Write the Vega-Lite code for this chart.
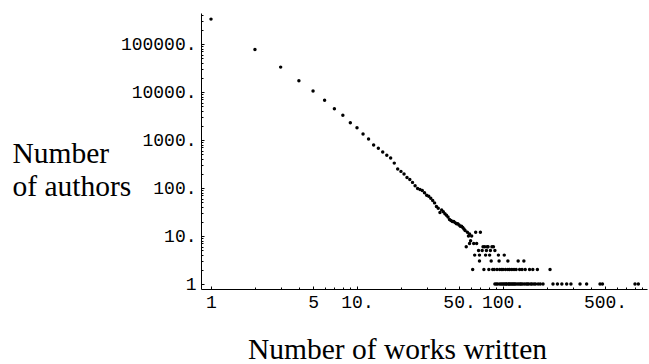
{
  "$schema": "https://vega.github.io/schema/vega-lite/v6.json",
  "width": 446,
  "height": 276,
  "autosize": {"type": "none"},
  "padding": {"left": 201, "top": 13, "right": 2, "bottom": 75},
  "background": "white",
  "config": {
    "view": {"stroke": null},
    "axis": {
      "grid": false,
      "domainColor": "black",
      "domainWidth": 1,
      "tickColor": "black",
      "tickWidth": 1,
      "labelColor": "black",
      "labelFont": "Liberation Mono",
      "labelFontSize": 18,
      "labelFlush": false,
      "labelOverlap": false,
      "titleFont": "Liberation Serif",
      "titleFontSize": 29.5,
      "titleFontWeight": "normal",
      "titleColor": "black"
    }
  },
  "data": {
    "values": [
      {"works": 1, "authors": 330000}, {"works": 2, "authors": 77000}, {"works": 3, "authors": 33000},
      {"works": 4, "authors": 17200}, {"works": 5, "authors": 10500}, {"works": 6, "authors": 6700},
      {"works": 7, "authors": 4470}, {"works": 8, "authors": 3270}, {"works": 9, "authors": 2290},
      {"works": 10, "authors": 1800}, {"works": 11, "authors": 1330}, {"works": 12, "authors": 1050},
      {"works": 13, "authors": 790}, {"works": 14, "authors": 670}, {"works": 15, "authors": 560},
      {"works": 16, "authors": 480}, {"works": 17, "authors": 420}, {"works": 18, "authors": 330},
      {"works": 19, "authors": 250}, {"works": 20, "authors": 222}, {"works": 21, "authors": 196},
      {"works": 22, "authors": 165}, {"works": 23, "authors": 150}, {"works": 24, "authors": 131},
      {"works": 25, "authors": 112}, {"works": 26, "authors": 98}, {"works": 27, "authors": 93},
      {"works": 28, "authors": 89}, {"works": 29, "authors": 80}, {"works": 30, "authors": 71},
      {"works": 31, "authors": 67}, {"works": 32, "authors": 61}, {"works": 33, "authors": 55},
      {"works": 34, "authors": 49}, {"works": 35, "authors": 41}, {"works": 36, "authors": 38},
      {"works": 37, "authors": 31}, {"works": 38, "authors": 35}, {"works": 39, "authors": 32},
      {"works": 40, "authors": 29}, {"works": 41, "authors": 27}, {"works": 42, "authors": 25},
      {"works": 43, "authors": 22}, {"works": 44, "authors": 21}, {"works": 45, "authors": 20},
      {"works": 46, "authors": 20}, {"works": 47, "authors": 19}, {"works": 48, "authors": 18},
      {"works": 49, "authors": 18}, {"works": 50, "authors": 17}, {"works": 51, "authors": 16},
      {"works": 52, "authors": 16}, {"works": 53, "authors": 15}, {"works": 54, "authors": 14},
      {"works": 55, "authors": 13},
      {"works": 56, "authors": 6}, {"works": 57, "authors": 12}, {"works": 58, "authors": 10},
      {"works": 59, "authors": 7}, {"works": 59, "authors": 11}, {"works": 60, "authors": 8},
      {"works": 61, "authors": 10}, {"works": 62, "authors": 2}, {"works": 63, "authors": 7},
      {"works": 64, "authors": 4}, {"works": 65, "authors": 12}, {"works": 66, "authors": 7},
      {"works": 68, "authors": 5}, {"works": 69, "authors": 3}, {"works": 69, "authors": 4},
      {"works": 70, "authors": 12}, {"works": 72, "authors": 5}, {"works": 73, "authors": 6},
      {"works": 74, "authors": 2}, {"works": 75, "authors": 6}, {"works": 76, "authors": 4},
      {"works": 77, "authors": 5}, {"works": 78, "authors": 6}, {"works": 79, "authors": 6},
      {"works": 80, "authors": 2}, {"works": 81, "authors": 4}, {"works": 82, "authors": 5},
      {"works": 83, "authors": 3}, {"works": 84, "authors": 6}, {"works": 85, "authors": 2},
      {"works": 86, "authors": 6}, {"works": 87, "authors": 2}, {"works": 88, "authors": 5},
      {"works": 88, "authors": 1}, {"works": 90, "authors": 1}, {"works": 91, "authors": 2},
      {"works": 92, "authors": 1}, {"works": 93, "authors": 4}, {"works": 94, "authors": 3},
      {"works": 95, "authors": 2}, {"works": 95, "authors": 1}, {"works": 97, "authors": 1},
      {"works": 98, "authors": 2}, {"works": 99, "authors": 1}, {"works": 100, "authors": 2},
      {"works": 101, "authors": 1}, {"works": 102, "authors": 4}, {"works": 103, "authors": 1},
      {"works": 104, "authors": 2}, {"works": 105, "authors": 1}, {"works": 106, "authors": 1},
      {"works": 108, "authors": 3}, {"works": 108, "authors": 2}, {"works": 109, "authors": 1},
      {"works": 110, "authors": 1}, {"works": 111, "authors": 2}, {"works": 112, "authors": 1},
      {"works": 114, "authors": 1}, {"works": 115, "authors": 2}, {"works": 116, "authors": 1},
      {"works": 118, "authors": 1}, {"works": 119, "authors": 2}, {"works": 120, "authors": 1},
      {"works": 122, "authors": 1}, {"works": 123, "authors": 2}, {"works": 125, "authors": 1},
      {"works": 127, "authors": 3}, {"works": 128, "authors": 1}, {"works": 130, "authors": 2},
      {"works": 131, "authors": 1}, {"works": 133, "authors": 1}, {"works": 135, "authors": 2},
      {"works": 136, "authors": 1}, {"works": 139, "authors": 3}, {"works": 140, "authors": 1},
      {"works": 142, "authors": 2}, {"works": 144, "authors": 1}, {"works": 147, "authors": 1},
      {"works": 150, "authors": 1}, {"works": 152, "authors": 2}, {"works": 155, "authors": 1},
      {"works": 158, "authors": 1}, {"works": 160, "authors": 2}, {"works": 163, "authors": 1},
      {"works": 167, "authors": 1}, {"works": 172, "authors": 2}, {"works": 174, "authors": 1},
      {"works": 180, "authors": 1}, {"works": 188, "authors": 1}, {"works": 210, "authors": 2},
      {"works": 220, "authors": 1}, {"works": 236, "authors": 1}, {"works": 253, "authors": 1},
      {"works": 273, "authors": 1}, {"works": 292, "authors": 1}, {"works": 337, "authors": 1},
      {"works": 374, "authors": 1}, {"works": 462, "authors": 1}, {"works": 480, "authors": 1},
      {"works": 802, "authors": 1}, {"works": 845, "authors": 1}
    ]
  },
  "layer": [
    {
      "mark": {"type": "circle", "size": 12, "color": "black", "opacity": 1},
      "encoding": {
        "x": {
          "field": "works",
          "type": "quantitative",
          "scale": {"type": "log", "domain": [0.854, 969], "nice": false},
          "axis": {
            "orient": "bottom",
            "values": [1, 5, 10, 50, 100, 500],
            "tickSize": -3,
            "labelPadding": 7,
            "labelExpr": "datum.value < 10 ? format(datum.value, 'd') : format(datum.value, 'd') + '.'",
            "title": "Number of works written",
            "titleAnchor": "start",
            "titleAlign": "center",
            "titleBaseline": "alphabetic",
            "titleX": 196,
            "titleY": 69
          }
        },
        "y": {
          "field": "authors",
          "type": "quantitative",
          "scale": {"type": "log", "domain": [0.787, 442600], "nice": false},
          "axis": {
            "orient": "left",
            "values": [1, 10, 100, 1000, 10000, 100000],
            "tickSize": -3,
            "labelPadding": 8,
            "labelExpr": "datum.value < 10 ? format(datum.value, 'd') : format(datum.value, 'd') + '.'",
            "title": ["Number", "of authors"],
            "titleAngle": 0,
            "titleAnchor": "start",
            "titleAlign": "left",
            "titleBaseline": "alphabetic",
            "titleLineHeight": 33,
            "titleX": -189,
            "titleY": 149
          }
        }
      }
    },
    {
      "mark": {"type": "circle", "size": 12, "opacity": 0},
      "encoding": {
        "x": {
          "field": "works",
          "type": "quantitative",
          "scale": {"type": "log", "domain": [0.854, 969], "nice": false},
          "axis": {
            "orient": "bottom",
            "values": [2, 3, 4, 6, 7, 8, 9, 20, 30, 40, 60, 70, 80, 90, 200, 300, 400, 600, 700, 800, 900],
            "tickSize": -2,
            "labels": false,
            "domain": false,
            "title": null
          }
        },
        "y": {
          "field": "authors",
          "type": "quantitative",
          "scale": {"type": "log", "domain": [0.787, 442600], "nice": false},
          "axis": {
            "orient": "left",
            "values": [2, 3, 4, 5, 6, 7, 8, 9, 20, 30, 40, 50, 60, 70, 80, 90, 200, 300, 400, 500, 600, 700, 800, 900, 2000, 3000, 4000, 5000, 6000, 7000, 8000, 9000, 20000, 30000, 40000, 50000, 60000, 70000, 80000, 90000, 200000, 300000, 400000],
            "tickSize": -2,
            "labels": false,
            "domain": false,
            "title": null
          }
        }
      }
    }
  ],
  "resolve": {"axis": {"x": "independent", "y": "independent"}}
}
